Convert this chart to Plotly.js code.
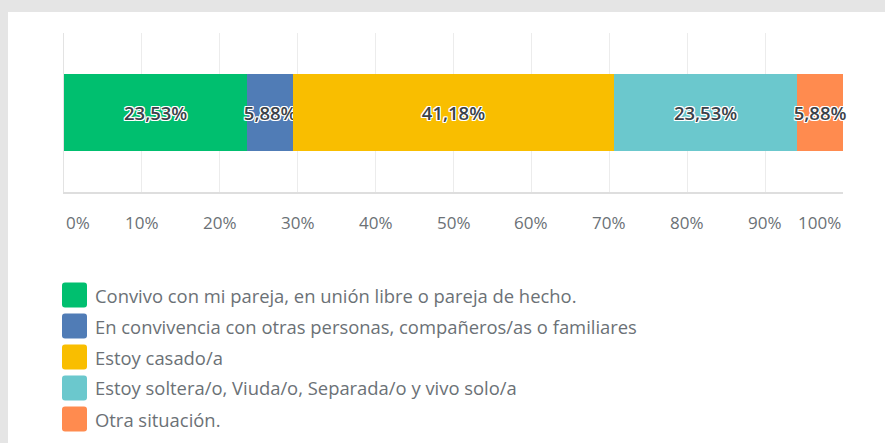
<!DOCTYPE html>
<html>
<head>
<meta charset="utf-8">
<script src="https://cdn.plot.ly/plotly-3.0.1.min.js"></script>
<style>
  html, body { margin: 0; padding: 0; background: #e5e5e5; width: 885px; height: 443px; overflow: hidden; }
  #chart { position: absolute; left: 8px; top: 12px; width: 877px; height: 431px; background: #fff; }
</style>
</head>
<body>
<div id="chart"></div>
<script>
// ---- data ----
const categories = [
  "Convivo con mi pareja, en unión libre o pareja de hecho.",
  "En convivencia con otras personas, compañeros/as o familiares",
  "Estoy casado/a",
  "Estoy soltera/o, Viuda/o, Separada/o y vivo solo/a",
  "Otra situación."
];
const values = [23.53, 5.88, 41.18, 23.53, 5.88];
const colors = ["#00bf6f", "#507cb6", "#f9be00", "#6bc8cd", "#ff8b4f"];
const tickVals = [0, 10, 20, 30, 40, 50, 60, 70, 80, 90, 100];
const tickText = ["0%", "10%", "20%", "30%", "40%", "50%", "60%", "70%", "80%", "90%", "100%"];

// ---- layout geometry (div pixels) ----
const W = 877, H = 431;
const M = { l: 56, r: 42, t: 21, b: 251 };
const plotW = W - M.l - M.r, plotH = H - M.t - M.b;
const px2x = p => (p - M.l) / plotW;
const py2y = p => (H - M.b - p) / plotH;
const FONT = "'Open Sans', sans-serif";

const traces = categories.map((c, i) => ({
  type: "bar",
  orientation: "h",
  name: c,
  y: ["q"],
  x: [values[i]],
  width: 0.49,
  marker: { color: colors[i], line: { width: 0 } },
  texttemplate: "%{x:.2f}%",
  textposition: "inside",
  insidetextanchor: "middle",
  textangle: 0,
  constraintext: "none",
  cliponaxis: false,
  textfont: {
    family: FONT, size: 18.5, color: "#3b4249", weight: 600,
    shadow: "1px 1px 0 #fff, -1px -1px 0 #fff, 1px -1px 0 #fff, -1px 1px 0 #fff, 0 1px 0 #fff, 0 -1px 0 #fff, 1px 0 0 #fff, -1px 0 0 #fff"
  },
  hoverinfo: "name+x",
  showlegend: false
}));

const annotations = [];
const shapes = [];

// tick labels (ends kept inside the plot width)
tickVals.forEach((v, i) => {
  annotations.push({
    xref: "x", yref: "paper", x: v, y: py2y(210),
    text: tickText[i], showarrow: false,
    xanchor: i === 0 ? "left" : (i === tickVals.length - 1 ? "right" : "center"),
    yanchor: "middle",
    font: { family: FONT, size: 17, color: "#6b7176" }
  });
});

// custom legend
const legendTop = 283;   // centre of first row (div px)
const legendStep = 31;
const swatchCx = 66.5;
const textX = 85;
const r = 12.5, k = 3;
const rr = `M${-r + k},${-r} H${r - k} Q${r},${-r} ${r},${-r + k} V${r - k} Q${r},${r} ${r - k},${r} H${-r + k} Q${-r},${r} ${-r},${r - k} V${-r + k} Q${-r},${-r} ${-r + k},${-r} Z`;
categories.forEach((c, i) => {
  const cy = legendTop + i * legendStep;
  shapes.push({
    type: "path", xref: "paper", yref: "paper",
    xsizemode: "pixel", ysizemode: "pixel",
    xanchor: px2x(swatchCx), yanchor: py2y(cy),
    path: rr, fillcolor: colors[i], line: { width: 0 }
  });
  annotations.push({
    xref: "paper", yref: "paper", x: px2x(textX), y: py2y(cy),
    text: c, showarrow: false, xanchor: "left", yanchor: "middle",
    font: { family: FONT, size: 18.4, color: "#6b7176" }
  });
});

const layout = {
  width: W, height: H,
  margin: M,
  paper_bgcolor: "#ffffff",
  plot_bgcolor: "#ffffff",
  barmode: "stack",
  bargap: 0,
  separators: ",.",
  showlegend: false,
  xaxis: {
    range: [0, 100], tickvals: tickVals, showticklabels: false,
    showgrid: true, gridcolor: "#ececec", gridwidth: 1,
    zeroline: false, showline: true, linecolor: "#dedede", linewidth: 2,
    fixedrange: true
  },
  yaxis: {
    range: [-0.5, 0.5], showticklabels: false, showgrid: false,
    zeroline: false, showline: true, linecolor: "#e3e3e3", linewidth: 1,
    fixedrange: true
  },
  annotations: annotations,
  shapes: shapes
};

Plotly.newPlot("chart", traces, layout, { displayModeBar: false, staticPlot: true });
</script>
</body>
</html>
